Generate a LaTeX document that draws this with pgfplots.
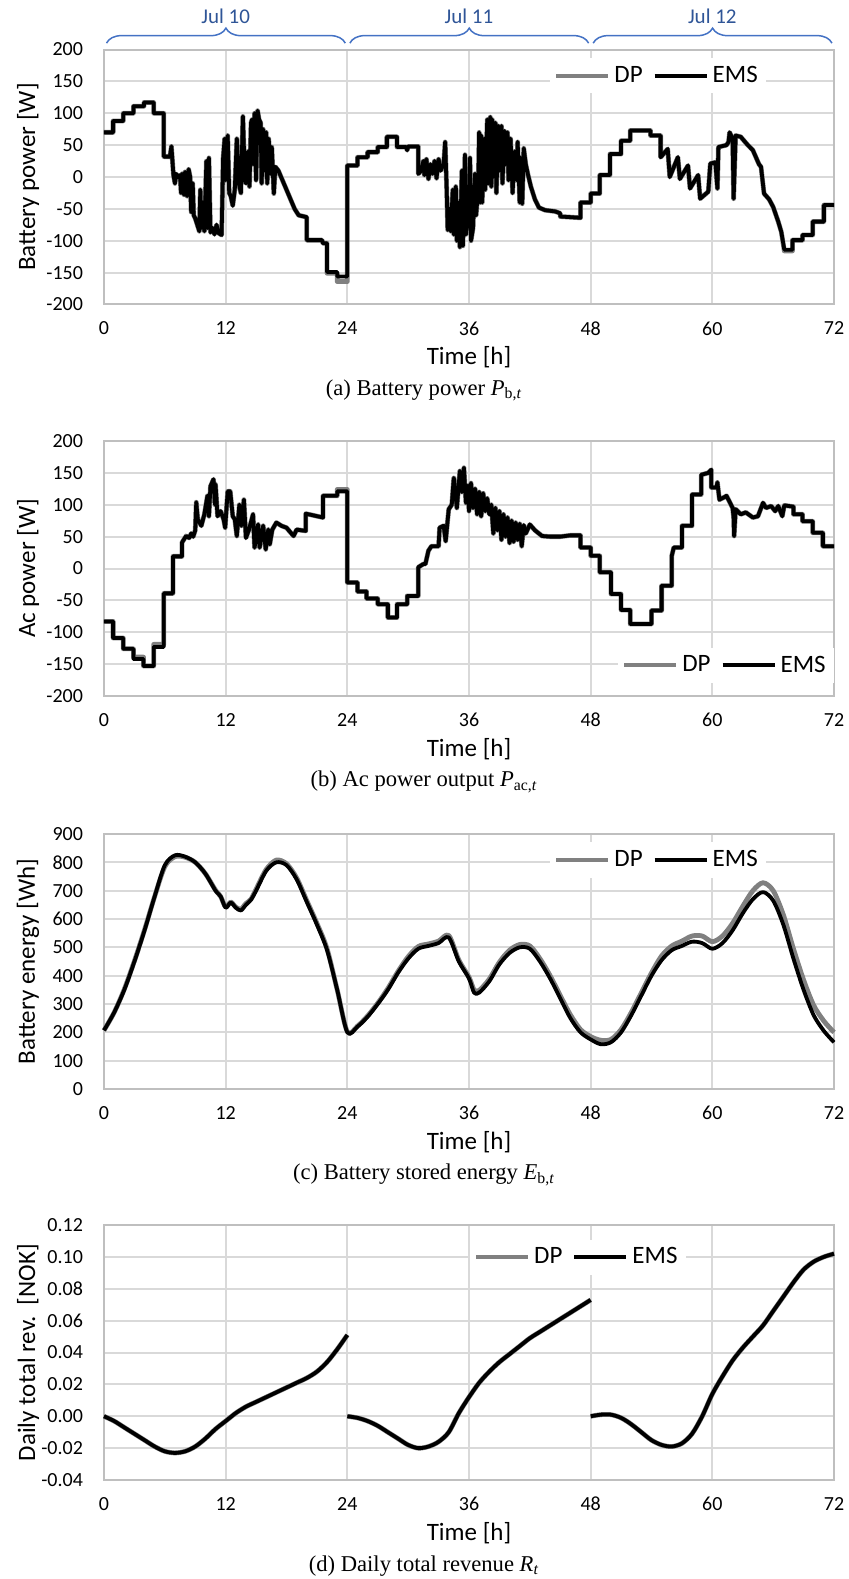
\documentclass[border=0pt]{standalone}
\usepackage{pgfplots}
\pgfplotsset{compat=1.18}
\usepackage{pgfplotstable}
\usepackage{fontspec}
\setmainfont{Carlito}
\newfontfamily\timesf{Liberation Serif}
\usetikzlibrary{decorations.pathreplacing}
\definecolor{gridc}{RGB}{217,217,217}
\definecolor{framec}{RGB}{191,191,191}
\definecolor{dpc}{RGB}{128,128,128}
\definecolor{bracec}{RGB}{68,114,196}
\definecolor{jultext}{RGB}{47,85,151}

\pgfplotsset{
  legend image code/.code={\draw[#1,line width=2pt] (0pt,0pt) -- (26pt,0pt);},
  myaxis/.style={
    scale only axis, width=365pt, height=127.5pt,
    xmin=0, xmax=72, xtick={0,12,24,36,48,60,72},
    grid=major, major grid style={gridc, line width=1pt},
    axis line style={framec, line width=1pt},
    tick style={draw=none},
    ticklabel style={font=\fontsize{10}{12}\selectfont},
    /pgf/number format/assume math mode=true,
    xticklabel style={yshift=-5pt},
    yticklabel style={xshift=-7pt},
    xlabel={Time [h]},
    label style={font=\fontsize{12.5}{15}\selectfont},
    xlabel style={at={(axis description cs:0.5,-0.2078)}, anchor=center},
    ylabel style={at={(axis description cs:-0.1041,0.5)}, anchor=center},
    clip=false,
    legend style={draw=none, fill=white, inner sep=2pt,
      font=\fontsize{12.5}{15}\selectfont, legend columns=-1,
      /tikz/every even column/.append style={column sep=3pt}},
  },
  dpstyle/.style={dpc, line width=2.4pt, line join=round},
  emsstyle/.style={black, line width=1.9pt, line join=round},
}

% Panel (a): battery power
\pgfplotstableread{
t dp ems
0 70 70
0.9 70 70
0.9 88 88
1.9 88 88
1.9 100 100
2.9 100 100
2.9 111 111
3.95 111 111
3.95 117 117
4.9 117 117
4.9 100 100
5.9 100 100
5.9 32 32
6.5 32 32
6.65 48 48
6.85 3 3
7.0 -10 -10
7.1 5 5
7.3 0 0
7.5 3 3
7.6 -25 -25
7.7 5 5
7.9 -28 -28
8.0 8 8
8.2 -30 -30
8.35 12 12
8.5 0 0
8.6 -55 -55
8.75 -10 -10
8.85 -60 -60
9.0 -65 -65
9.2 -75 -75
9.4 -85 -85
9.5 -20 -20
9.6 -80 -80
9.75 -40 -40
9.9 -85 -85
10.1 25 25
10.2 -80 -80
10.35 30 30
10.5 -87 -87
10.7 -80 -80
10.9 -90 -90
11.1 -75 -75
11.3 -88 -88
11.6 -91 -91
11.75 30 30
11.9 60 60
12.0 -5 -5
12.2 65 65
12.35 -25 -25
12.5 -30 -30
12.7 -45 -45
12.9 -20 -20
13.1 60 60
13.3 -10 -10
13.5 -25 -25
13.7 95 95
13.9 -5 -5
14.0 -10 -10
14.2 40 40
14.35 -15 -15
14.5 85 85
14.6 90 90
14.7 20 20
14.85 100 100
15.0 -5 -5
15.15 104 104
15.3 90 90
15.45 85 85
15.55 -10 -10
15.7 75 75
15.85 10 10
16.0 70 70
16.1 -10 -10
16.25 60 60
16.4 5 5
16.55 47 47
16.75 -26 -26
16.9 16 16
17.2 10 10
17.6 -5 -5
18.0 -20 -20
18.4 -35 -35
18.8 -50 -50
19.2 -60 -60
20.0 -63 -63
20.0 -99 -99
21.5 -99 -99
21.6 -104 -104
22.0 -104 -104
22.0 -151 -149
23.0 -151 -149
23.0 -164 -156
24.0 -164 -156
24.0 18 18
25.0 18 18
25.0 31 31
26.0 31 31
26.0 39 39
27.0 39 39
27.0 47 47
27.9 47 47
27.9 63 63
28.9 63 63
28.9 47 47
29.8 47 47
29.9 42 42
30.0 48 48
31.0 48 48
31.0 5 5
31.3 10 10
31.5 25 25
31.6 3 3
31.8 28 28
32.0 -3 -3
32.2 20 20
32.4 5 5
32.6 25 25
32.8 -2 -2
33.0 28 28
33.2 10 10
33.5 20 20
33.65 55 55
33.8 -20 -20
33.9 -83 -83
34.1 -50 -50
34.2 -85 -85
34.4 -20 -20
34.5 -90 -90
34.7 -15 -15
34.8 -100 -100
35.0 -40 -40
35.1 -110 -110
35.3 10 10
35.4 -108 -108
35.6 35 35
35.7 -90 -90
35.9 -60 -60
36.0 -40 -40
36.1 30 30
36.2 -100 -100
36.4 -80 -80
36.5 -30 -30
36.6 5 5
36.7 -60 -60
36.8 -40 -40
36.9 -30 -30
37.0 70 70
37.1 -40 -40
37.2 65 65
37.3 -40 -40
37.5 60 60
37.6 -20 -20
37.8 90 90
37.9 -10 -10
38.1 94 94
38.2 -15 -15
38.3 90 90
38.4 0 0
38.6 85 85
38.7 -25 -25
38.9 80 80
39.0 10 10
39.2 80 80
39.3 -10 -10
39.5 72 72
39.6 20 20
39.8 70 70
39.9 -5 -5
40.1 60 60
40.3 -25 -25
40.5 40 40
40.7 -5 -5
40.8 55 55
41.0 -40 -40
41.1 30 30
41.25 -42 -42
41.4 45 45
41.6 20 20
41.8 5 5
42.1 -15 -15
42.5 -35 -35
42.9 -48 -48
43.5 -52 -52
44.5 -54 -54
45.0 -57 -57
45.0 -62 -62
47.0 -64 -64
47.0 -40 -40
48.0 -40 -40
48.0 -26 -26
48.9 -26 -26
48.9 3 3
49.9 3 3
49.9 36 36
51.0 36 36
51.0 57 57
51.9 57 57
51.9 73 73
53.9 73 73
53.9 65 65
54.9 65 65
54.9 31 31
55.6 44 44
55.8 0 0
56.6 31 31
56.8 -3 -3
57.6 18 18
57.8 -18 -18
58.6 3 3
58.8 -34 -34
59.6 -23 -23
59.8 21 21
60.3 23 23
60.5 -18 -18
60.6 47 47
61.4 50 50
61.6 55 55
61.7 70 70
62.0 60 60
62.1 -34 -34
62.3 65 65
62.8 63 63
63.5 50 50
64.0 42 42
64.6 20 20
64.8 16 16
65.1 -26 -26
65.6 -35 -35
66.0 -47 -47
66.5 -70 -70
66.8 -86 -86
67.1 -116 -114
67.9 -116 -114
67.9 -99 -99
68.9 -99 -99
68.9 -91 -91
69.9 -91 -91
69.9 -70 -70
71.0 -70 -70
71.0 -44 -44
72.0 -44 -44
}\tblA

% Panel (b): ac power
\pgfplotstableread{
t dp ems
0 -83 -83
0.9 -83 -83
0.9 -109 -109
1.9 -109 -109
1.9 -126 -126
2.9 -126 -126
2.9 -139 -142
3.9 -139 -142
3.9 -153 -153
4.9 -153 -153
4.9 -119 -123
5.9 -119 -123
5.9 -39 -39
6.8 -39 -39
6.8 19 19
7.7 19 19
7.7 41 41
7.9 46 46
8.1 51 51
8.4 48 48
8.6 55 55
8.8 50 50
9.0 60 60
9.1 104 104
9.25 77 77
9.6 67 67
9.9 85 85
10.2 114 114
10.35 82 82
10.5 129 129
10.8 140 140
10.95 100 100
11.0 132 132
11.2 82 82
11.5 90 90
11.8 77 77
11.95 64 64
12.2 121 121
12.45 121 121
12.7 82 82
12.9 77 77
13.1 51 51
13.35 100 100
13.55 67 67
13.8 108 108
14.0 48 48
14.3 61 61
14.7 85 85
14.85 33 33
15.2 69 69
15.35 33 33
15.7 67 67
15.95 30 30
16.2 61 61
16.35 38 38
16.6 61 61
17.0 72 72
17.5 67 67
18.0 64 64
18.7 51 51
19.0 61 61
19.9 59 59
19.9 86 86
21.6 80 80
21.6 114 114
23.0 114 114
23.0 124 121
24.0 124 121
24.0 -22 -22
25.0 -22 -22
25.0 -36 -36
25.9 -36 -36
25.9 -47 -47
27.0 -47 -47
27.0 -56 -56
28.0 -56 -56
28.0 -77 -77
28.9 -77 -77
28.9 -56 -56
29.9 -56 -56
29.9 -43 -43
31.0 -43 -43
31.0 2 2
31.5 7 7
31.7 7 7
32.0 28 28
32.3 35 35
33.0 35 35
33.1 64 64
33.5 67 67
33.7 43 43
34.0 93 93
34.3 100 100
34.5 142 142
34.8 95 95
35.1 153 153
35.3 120 120
35.5 158 158
35.7 103 103
35.9 130 130
36.0 90 90
36.2 134 134
36.4 95 95
36.6 125 125
36.8 85 85
37.0 120 120
37.2 82 82
37.4 118 118
37.6 90 90
37.8 110 110
38.0 85 85
38.2 100 100
38.4 55 55
38.6 95 95
38.8 60 60
39.0 90 90
39.2 45 45
39.4 85 85
39.6 50 50
39.8 80 80
40.0 40 40
40.2 75 75
40.4 42 42
40.6 72 72
40.8 45 45
41.0 70 70
41.2 35 35
41.4 68 68
41.6 55 55
42.0 69 69
42.5 60 60
43.2 51 51
44.0 50 50
45.0 50 50
46.0 52 52
47.0 52 52
47.0 33 33
48.0 33 33
48.0 20 20
48.9 20 20
48.9 -6 -6
50.0 -6 -6
50.0 -40 -40
51.0 -40 -40
51.0 -65 -65
51.9 -65 -65
51.9 -87 -87
54.0 -87 -87
54.0 -66 -66
55.0 -66 -66
55.0 -27 -27
56.0 -27 -27
56.0 20 20
56.2 33 33
57.0 33 33
57.0 67 67
58.0 67 67
58.0 116 116
58.9 116 116
58.9 147 147
59.6 150 150
59.9 155 155
59.9 127 127
60.4 127 127
60.5 135 135
60.7 108 108
61.2 112 112
61.4 114 114
62.0 95 95
62.1 80 80
62.15 51 51
62.3 93 93
62.8 85 85
63.3 88 88
64.0 80 80
64.5 82 82
65.0 103 103
65.3 95 95
65.8 98 98
66.2 90 90
66.5 98 98
66.9 82 82
67.1 99 99
68.0 97 97
68.0 85 85
68.9 85 85
68.9 74 74
69.9 74 74
69.9 56 56
70.9 56 56
70.9 35 35
72.0 35 35
}\tblB

% Panel (c): battery energy
\pgfplotstableread{
t dp ems
0 207 207
1 270 270
2 352 350
3 452 450
4 562 560
5 680 680
6 785 790
7 820 825
8 818 820
9 800 800
10 760 760
11 702 700
11.5 680 680
12 642 640
12.5 660 658
13 642 640
13.5 635 630
14 655 650
14.5 670 668
15 705 700
16 775 770
17 808 800
18 795 790
19 745 740
20 665 660
21 585 580
22 495 490
23 350 350
24 202 200
25 222 220
26 258 255
27 303 300
28 355 350
29 415 410
30 467 460
31 503 495
32 512 505
33 522 515
34 542 535
35 455 450
36 395 390
36.5 350 340
37 348 340
38 388 380
39 448 440
40 490 480
41 510 500
42 505 495
43 460 450
44 400 390
45 330 320
46 262 250
47 210 200
48 185 175
49 172 158
50 175 165
51 210 200
52 270 260
53 340 330
54 410 400
55 470 455
56 505 490
57 522 505
58 540 520
59 540 515
60 520 495
61 540 515
62 585 560
63 645 620
64 700 670
65 728 695
66 700 665
67 615 580
68 495 460
69 385 350
70 295 260
71 240 205
72 200 165
}\tblC

% Panel (d): daily total revenue, one table per day
\pgfplotstableread{
t dp ems
0 0 0
1 -0.003 -0.003
2 -0.007 -0.007
3 -0.011 -0.011
4 -0.015 -0.015
5 -0.019 -0.019
6 -0.022 -0.022
7 -0.023 -0.023
8 -0.022 -0.022
9 -0.019 -0.019
10 -0.014 -0.014
11 -0.008 -0.008
12 -0.003 -0.003
13 0.002 0.002
14 0.006 0.006
15 0.009 0.009
16 0.012 0.012
17 0.015 0.015
18 0.018 0.018
19 0.021 0.021
20 0.024 0.024
21 0.028 0.028
22 0.034 0.034
23 0.042 0.042
24 0.051 0.051
}\tblDa
\pgfplotstableread{
t dp ems
24 0 0
25 -0.001 -0.001
26 -0.003 -0.003
27 -0.006 -0.006
28 -0.010 -0.010
29 -0.014 -0.014
30 -0.018 -0.018
31 -0.020 -0.020
32 -0.019 -0.019
33 -0.016 -0.016
34 -0.010 -0.010
35 0.002 0.002
36 0.012 0.012
37 0.021 0.021
38 0.028 0.028
39 0.034 0.034
40 0.039 0.039
41 0.044 0.044
42 0.049 0.049
43 0.053 0.053
44 0.057 0.057
45 0.061 0.061
46 0.065 0.065
47 0.069 0.069
48 0.073 0.073
}\tblDb
\pgfplotstableread{
t dp ems
48 0 0
49 0.001 0.001
50 0.001 0.001
51 -0.001 -0.001
52 -0.005 -0.005
53 -0.010 -0.010
54 -0.015 -0.015
55 -0.018 -0.018
56 -0.019 -0.019
57 -0.017 -0.017
58 -0.011 -0.011
59 0.000 0.000
60 0.014 0.014
61 0.025 0.025
62 0.035 0.035
63 0.043 0.043
64 0.050 0.050
65 0.057 0.057
66 0.066 0.066
67 0.075 0.075
68 0.084 0.084
69 0.092 0.092
70 0.097 0.097
71 0.100 0.100
72 0.102 0.102
}\tblDc

\begin{document}
\begin{tikzpicture}
\useasboundingbox (0,0) rectangle (424pt,-789.5pt);

% (a)
\begin{axis}[myaxis, at={(52pt,-24.75pt)}, anchor=north west,
  ymin=-200, ymax=200, ytick={-200,-150,...,200},
  ylabel={Battery power [W]},
  legend style={at={(0.611,0.897)}, anchor=west}]
\addplot[dpstyle] table[x=t,y=dp] {\tblA};
\addplot[emsstyle] table[x=t,y=ems] {\tblA};
\legend{DP,EMS}
\draw[bracec, line width=0.75pt, decorate, decoration={brace, amplitude=7.5pt}]
  (axis cs:0.25,210) -- (axis cs:23.8,210);
\draw[bracec, line width=0.75pt, decorate, decoration={brace, amplitude=7.5pt}]
  (axis cs:24.25,210) -- (axis cs:47.8,210);
\draw[bracec, line width=0.75pt, decorate, decoration={brace, amplitude=7.5pt}]
  (axis cs:48.25,210) -- (axis cs:71.8,210);
\node[jultext, font=\fontsize{10.5}{12}\selectfont] at (axis cs:12,252.6) {Jul 10};
\node[jultext, font=\fontsize{10.5}{12}\selectfont] at (axis cs:36,252.6) {Jul 11};
\node[jultext, font=\fontsize{10.5}{12}\selectfont] at (axis cs:60,252.6) {Jul 12};
\node[font=\timesf\fontsize{11.3}{13}\selectfont] at (axis description cs:0.4384,-0.3373)
  {(a) Battery power \textit{P}\textsubscript{b,\textit{t}}};
\end{axis}

% (b)
\begin{axis}[myaxis, at={(52pt,-220.5pt)}, anchor=north west,
  ymin=-200, ymax=200, ytick={-200,-150,...,200},
  ylabel={Ac power [W]},
  legend style={at={(0.704,0.120)}, anchor=west}]
\addplot[dpstyle] table[x=t,y=dp] {\tblB};
\addplot[emsstyle] table[x=t,y=ems] {\tblB};
\legend{DP,EMS}
\node[font=\timesf\fontsize{11.3}{13}\selectfont] at (axis description cs:0.4384,-0.3373)
  {(b) Ac power output \textit{P}\textsubscript{ac,\textit{t}}};
\end{axis}

% (c)
\begin{axis}[myaxis, at={(52pt,-417pt)}, anchor=north west,
  ymin=0, ymax=900, ytick={0,100,...,900},
  ylabel={Battery energy [Wh]},
  legend style={at={(0.611,0.898)}, anchor=west}]
\addplot[dpstyle, smooth] table[x=t,y=dp] {\tblC};
\addplot[emsstyle, smooth] table[x=t,y=ems] {\tblC};
\legend{DP,EMS}
\node[font=\timesf\fontsize{11.3}{13}\selectfont] at (axis description cs:0.4384,-0.3373)
  {(c) Battery stored energy \textit{E}\textsubscript{b,\textit{t}}};
\end{axis}

% (d)
\begin{axis}[myaxis, at={(52pt,-612.5pt)}, anchor=north west,
  ymin=-0.04, ymax=0.12, ytick={-0.04,-0.02,0,0.02,0.04,0.06,0.08,0.10,0.12},
  yticklabel style={/pgf/number format/fixed, /pgf/number format/fixed zerofill, /pgf/number format/precision=2},
  ylabel={Daily total rev.\ \ [NOK]},
  legend style={at={(0.501,0.874)}, anchor=west}]
\addplot[dpstyle, smooth] table[x=t,y=dp] {\tblDa};
\addplot[emsstyle, smooth] table[x=t,y=ems] {\tblDa};
\addplot[dpstyle, smooth, forget plot] table[x=t,y=dp] {\tblDb};
\addplot[emsstyle, smooth, forget plot] table[x=t,y=ems] {\tblDb};
\addplot[dpstyle, smooth, forget plot] table[x=t,y=dp] {\tblDc};
\addplot[emsstyle, smooth, forget plot] table[x=t,y=ems] {\tblDc};
\legend{DP,EMS}
\node[font=\timesf\fontsize{11.3}{13}\selectfont] at (axis description cs:0.4384,-0.3373)
  {(d) Daily total revenue \textit{R}\textsubscript{\textit{t}}};
\end{axis}
\end{tikzpicture}
\end{document}
